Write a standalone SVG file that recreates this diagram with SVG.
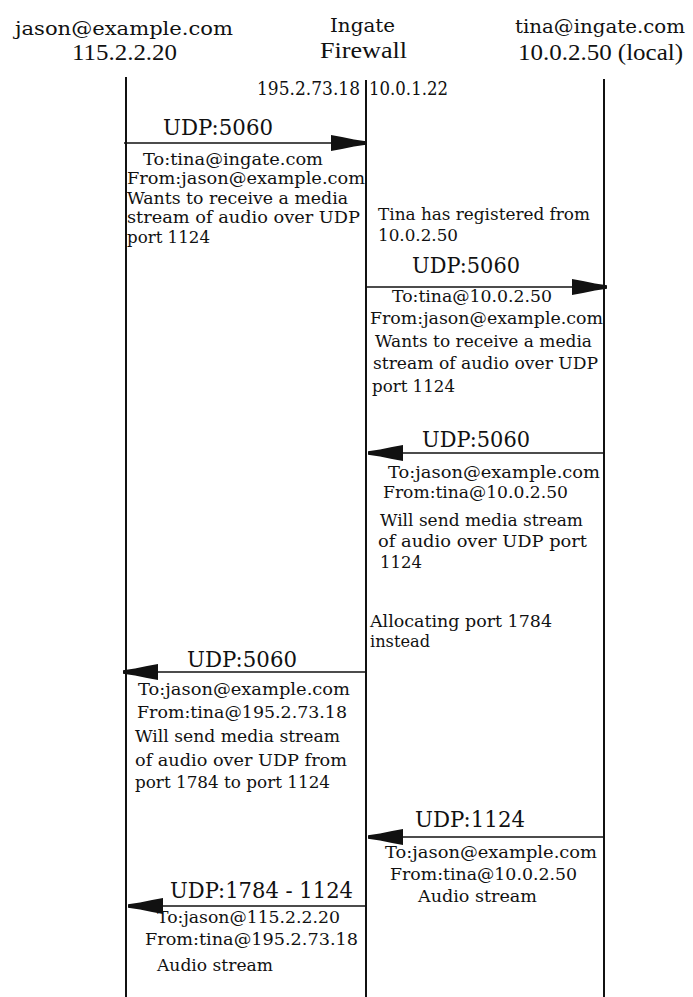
<svg xmlns="http://www.w3.org/2000/svg" width="693" height="997" viewBox="0 0 693 997">
<style>
text{font-family:"DejaVu Serif","Liberation Serif",serif;fill:#111;}
.h1{font-size:19px;}
.h2{font-family:"Liberation Serif","DejaVu Serif",serif;font-size:24px;}
.ip{font-size:18px;}
.udp{font-size:23px;}
.b{font-size:16px;}
.life{stroke:#111;stroke-width:2;}
.msg{stroke:#111;stroke-width:1.6;fill:none;marker-end:url(#ah);}
</style>
<defs>
<marker id="ah" markerUnits="userSpaceOnUse" viewBox="-38 -10 40 20" refX="0" refY="0" markerWidth="40" markerHeight="20" orient="auto">
<path d="M0,-1.8 L-12,-3.5 L-24,-6 L-35,-8 L-35,8 L-24,6 L-12,3.5 L0,1.8 Z" fill="#111"/>
</marker>
</defs>
<rect width="693" height="997" fill="#fff"/>

<g id="jason">
<text class="h1" x="15" y="35" textLength="218" lengthAdjust="spacingAndGlyphs">jason@example.com</text>
<text class="h2" x="72" y="60" textLength="105" lengthAdjust="spacingAndGlyphs">115.2.2.20</text>
<line class="life" x1="126" y1="77" x2="126" y2="997"/>
</g>
<g id="firewall">
<text class="h1" x="330" y="32" textLength="65" lengthAdjust="spacingAndGlyphs">Ingate</text>
<text class="h2" x="320" y="58" textLength="87" lengthAdjust="spacingAndGlyphs">Firewall</text>
<text class="ip" x="257" y="95" textLength="103" lengthAdjust="spacingAndGlyphs">195.2.73.18</text>
<text class="ip" x="369" y="95" textLength="79" lengthAdjust="spacingAndGlyphs">10.0.1.22</text>
<line class="life" x1="366" y1="80" x2="366" y2="997"/>
</g>
<g id="tina">
<text class="h1" x="515" y="33" textLength="170" lengthAdjust="spacingAndGlyphs">tina@ingate.com</text>
<text class="h2" x="518" y="60" textLength="165" lengthAdjust="spacingAndGlyphs">10.0.2.50 (local)</text>
<line class="life" x1="604" y1="79" x2="604" y2="997"/>
</g>

<g id="connectors">
<line class="msg" x1="124" y1="143" x2="366" y2="143"/>
<line class="msg" x1="366" y1="287" x2="607" y2="287"/>
<line class="msg" x1="604" y1="453" x2="368" y2="453"/>
<line class="msg" x1="366" y1="672" x2="123" y2="672"/>
<line class="msg" x1="604" y1="837" x2="368" y2="837"/>
<line class="msg" x1="366" y1="906" x2="128" y2="906"/>
</g>

<g id="msg1">
<text class="udp" x="163" y="135" textLength="110" lengthAdjust="spacingAndGlyphs">UDP:5060</text>
<text class="b" x="143" y="165" textLength="180" lengthAdjust="spacingAndGlyphs">To:tina@ingate.com</text>
<text class="b" x="127" y="184" textLength="238" lengthAdjust="spacingAndGlyphs">From:jason@example.com</text>
<text class="b" x="127" y="204" textLength="221" lengthAdjust="spacingAndGlyphs">Wants to receive a media</text>
<text class="b" x="127" y="223" textLength="233" lengthAdjust="spacingAndGlyphs">stream of audio over UDP</text>
<text class="b" x="127" y="243" textLength="83" lengthAdjust="spacingAndGlyphs">port 1124</text>
</g>

<g id="note-registered">
<text class="b" x="378" y="220" textLength="212" lengthAdjust="spacingAndGlyphs">Tina has registered from</text>
<text class="b" x="378" y="241" textLength="80" lengthAdjust="spacingAndGlyphs">10.0.2.50</text>
</g>

<g id="msg2">
<text class="udp" x="412" y="273" textLength="108" lengthAdjust="spacingAndGlyphs">UDP:5060</text>
<text class="b" x="392" y="302" textLength="160" lengthAdjust="spacingAndGlyphs">To:tina@10.0.2.50</text>
<text class="b" x="370" y="324" textLength="233" lengthAdjust="spacingAndGlyphs">From:jason@example.com</text>
<text class="b" x="375" y="347" textLength="217" lengthAdjust="spacingAndGlyphs">Wants to receive a media</text>
<text class="b" x="373" y="369" textLength="225" lengthAdjust="spacingAndGlyphs">stream of audio over UDP</text>
<text class="b" x="372" y="392" textLength="83" lengthAdjust="spacingAndGlyphs">port 1124</text>
</g>

<g id="msg3">
<text class="udp" x="422" y="447" textLength="108" lengthAdjust="spacingAndGlyphs">UDP:5060</text>
<text class="b" x="388" y="478" textLength="212" lengthAdjust="spacingAndGlyphs">To:jason@example.com</text>
<text class="b" x="383" y="498" textLength="185" lengthAdjust="spacingAndGlyphs">From:tina@10.0.2.50</text>
<text class="b" x="380" y="526" textLength="203" lengthAdjust="spacingAndGlyphs">Will send media stream</text>
<text class="b" x="378" y="547" textLength="209" lengthAdjust="spacingAndGlyphs">of audio over UDP port</text>
<text class="b" x="380" y="568" textLength="42" lengthAdjust="spacingAndGlyphs">1124</text>
</g>

<g id="note-allocating">
<text class="b" x="370" y="627" textLength="182" lengthAdjust="spacingAndGlyphs">Allocating port 1784</text>
<text class="b" x="370" y="647" textLength="60" lengthAdjust="spacingAndGlyphs">instead</text>
</g>

<g id="msg4">
<text class="udp" x="187" y="667" textLength="110" lengthAdjust="spacingAndGlyphs">UDP:5060</text>
<text class="b" x="138" y="695" textLength="212" lengthAdjust="spacingAndGlyphs">To:jason@example.com</text>
<text class="b" x="137" y="718" textLength="210" lengthAdjust="spacingAndGlyphs">From:tina@195.2.73.18</text>
<text class="b" x="135" y="742" textLength="205" lengthAdjust="spacingAndGlyphs">Will send media stream</text>
<text class="b" x="135" y="766" textLength="212" lengthAdjust="spacingAndGlyphs">of audio over UDP from</text>
<text class="b" x="135" y="788" textLength="195" lengthAdjust="spacingAndGlyphs">port 1784 to port 1124</text>
</g>

<g id="msg5">
<text class="udp" x="415" y="827" textLength="110" lengthAdjust="spacingAndGlyphs">UDP:1124</text>
<text class="b" x="385" y="858" textLength="212" lengthAdjust="spacingAndGlyphs">To:jason@example.com</text>
<text class="b" x="390" y="880" textLength="187" lengthAdjust="spacingAndGlyphs">From:tina@10.0.2.50</text>
<text class="b" x="418" y="902" textLength="119" lengthAdjust="spacingAndGlyphs">Audio stream</text>
</g>

<g id="msg6">
<text class="udp" x="170" y="898" textLength="183" lengthAdjust="spacingAndGlyphs">UDP:1784 - 1124</text>
<text class="b" x="157" y="923" textLength="183" lengthAdjust="spacingAndGlyphs">To:jason@115.2.2.20</text>
<text class="b" x="145" y="945" textLength="213" lengthAdjust="spacingAndGlyphs">From:tina@195.2.73.18</text>
<text class="b" x="157" y="971" textLength="116" lengthAdjust="spacingAndGlyphs">Audio stream</text>
</g>
</svg>
